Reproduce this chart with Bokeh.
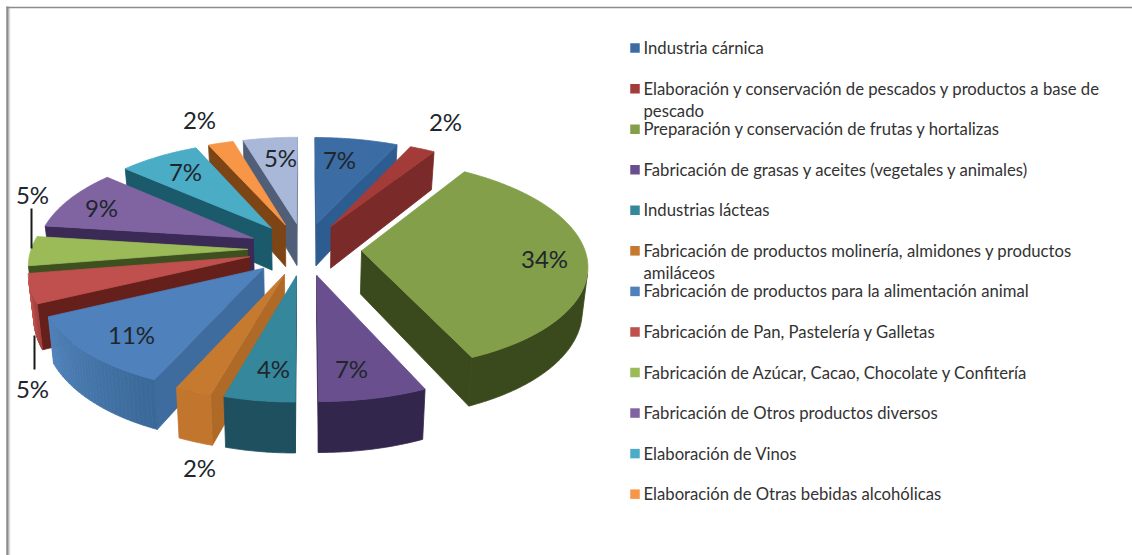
import numpy as np
from bokeh.plotting import figure
from bokeh.models import Range1d
from bokeh.core.properties import value
from bokeh.embed import file_html
from bokeh.resources import INLINE

# ---- data (shares estimated from the slice edges; the printed labels are rounded) ----
percent = [6.9, 2.1, 34.3, 6.7, 4.4, 2.3, 11.3, 4.5, 4.5, 9.4, 6.9, 2.15, 4.55]
labels = ["7%", "2%", "34%", "7%", "4%", "2%", "11%", "5%", "5%", "9%", "7%", "2%", "5%"]
legend_rows = [
    ["Industria cárnica"],
    ["Elaboración y conservación de pescados y productos a base de", "pescado"],
    ["Preparación y conservación de frutas y hortalizas"],
    ["Fabricación de grasas y aceites (vegetales y animales)"],
    ["Industrias lácteas"],
    ["Fabricación de productos molinería, almidones y productos", "amiláceos"],
    ["Fabricación de productos para la alimentación animal"],
    ["Fabricación de Pan, Pastelería y Galletas"],
    ["Fabricación de Azúcar, Cacao, Chocolate y Confitería"],
    ["Fabricación de Otros productos diversos"],
    ["Elaboración de Vinos"],
    ["Elaboración de Otras bebidas alcohólicas"],
]

# ---- styles ----
top_colors = ["#3B6CA3", "#A33B38", "#839F4A", "#6A4F8E", "#35879C", "#C67A30",
              "#4F81BD", "#C0504D", "#9BBB59", "#8064A2", "#4BACC6", "#F79646", "#A9B8D8"]
side_colors = ["#2D5C90", "#7A2A28", "#3A4A1C", "#33264D", "#1F5060", "#B06A28",
               "#3F6C9E", "#66201B", "#3F5020", "#3A2A55", "#1B5A6A", "#7D4516", "#505E78"]
rim_first = ["#2D5C90", "#7A2A28", "#3A4A1C", "#33264D", "#1F5060", "#C2752D",
             "#3A6898", "#A0403C", "#3F5020", "#3A2A55", "#1B5A6A", "#7D4516", "#505E78"]
rim_last = ["#2D5C90", "#7A2A28", "#3A4A1C", "#33264D", "#1F5060", "#C2752D",
            "#5083BB", "#C0504D", "#3F5020", "#3A2A55", "#1B5A6A", "#7D4516", "#505E78"]

# ---- projection of the exploded pie (plane units -> page pixels) ----
CX, CY, AX, BY, PERSP, LEAN, EXPLODE, DEPTH, FLOOR_X = 304, 248.4, 223, 103, 0.125, 0.02, 0.256, 43, 0.98


def project(px, py):
    s = 1 / (1 + PERSP * py)
    h = 1 / (1 + LEAN * max(-px, 0))
    return CX + AX * px * s * h, CY - BY * py * s, s


def bottom(pt):
    x, y, s = pt
    return CX + (x - CX) * FLOOR_X, y + DEPTH * s


def lerp_color(a, b, f):
    ca = [int(a[i:i + 2], 16) for i in (1, 3, 5)]
    cb = [int(b[i:i + 2], 16) for i in (1, 3, 5)]
    return "#%02x%02x%02x" % tuple(int(round(u + (v - u) * f)) for u, v in zip(ca, cb))


edges = np.cumsum([0] + percent) / sum(percent) * 2 * np.pi
order = sorted(range(len(percent)),
               key=lambda i: -np.cos((edges[i] + edges[i + 1]) / 2))

xs, ys, fills = [], [], []


def add(px, py, color):
    xs.append(list(px)); ys.append(list(py)); fills.append(color)


def faces_viewer(a, b):
    bax, bay = bottom(a)
    bbx, bby = bottom(b)
    qx = [a[0], b[0], bbx, bax]
    qy = [a[1], b[1], bby, bay]
    return sum(qx[k] * qy[(k + 1) % 4] - qx[(k + 1) % 4] * qy[k] for k in range(4)) < 0


def strip(points, color):
    low = [bottom(q) for q in points]
    add([q[0] for q in points] + [q[0] for q in reversed(low)],
        [q[1] for q in points] + [q[1] for q in reversed(low)], color)


for i in order:
    t0, t1 = edges[i], edges[i + 1]
    mid = (t0 + t1) / 2
    ox, oy = EXPLODE * np.sin(mid), EXPLODE * np.cos(mid)
    n = max(16, int(percent[i] * 6))
    th = np.linspace(t0, t1, n + 1)
    apex = project(ox, oy)
    arc = [project(ox + np.sin(t), oy + np.cos(t)) for t in th]
    if faces_viewer(apex, arc[0]):
        strip([apex, arc[0]], side_colors[i])
    if faces_viewer(arc[-1], apex):
        strip([arc[-1], apex], side_colors[i])
    seen = [k for k in range(n) if faces_viewer(arc[k], arc[k + 1])]
    if seen:
        run = arc[seen[0]:seen[-1] + 2]
        pieces = 1 if rim_first[i] == rim_last[i] else 24
        step = max(1, (len(run) - 1) // pieces)
        chunks = list(range(0, len(run) - 1, step))
        for c, k in enumerate(chunks):
            f = c / max(len(chunks) - 1, 1)
            strip(run[k:k + step + 1], lerp_color(rim_first[i], rim_last[i], f))
    add([apex[0]] + [a[0] for a in arc], [apex[1]] + [a[1] for a in arc], top_colors[i])

p = figure(width=1132, height=555, output_backend="svg", toolbar_location=None,
           x_range=Range1d(0, 1132), y_range=Range1d(555, 0), min_border=0,
           background_fill_color="white")
p.axis.visible = False
p.grid.visible = False
p.outline_line_color = None

# frame of the picture
p.line([7, 7], [6, 555], line_color="#8c8c8c", line_width=2.5)
p.line([9, 9], [7, 555], line_color="#dcdcdc", line_width=1.5)
p.line([6, 1132], [7, 7], line_color="#8c8c8c", line_width=1.5)

p.patches(xs, ys, fill_color=fills, line_color=fills, line_width=0.8)

# leader lines of the two outer 5% labels
p.line([31, 31], [208, 248], line_color="#1a1a1a", line_width=2)
p.line([34, 34], [335, 369], line_color="#1a1a1a", line_width=2)

# percentage labels
label_x = [339, 445, 544, 351, 273, 199, 131, 32, 32, 101, 185, 199, 280]
label_y = [159, 121, 258, 368, 368, 467, 334, 388, 194, 207, 171, 119, 157]
p.text(label_x, label_y, text=labels, text_font=value("Lato"), text_font_size="24px",
       text_color="#20262c", text_align="center", text_baseline="middle")

# legend
ROW0, ROW_STEP, LINE_STEP, SWATCH_X, TEXT_X = 47.6, 40.55, 22, 634.5, 643
for r, lines in enumerate(legend_rows):
    y = ROW0 + ROW_STEP * r
    p.rect([SWATCH_X], [y], width=9.5, height=9.5, fill_color=top_colors[r], line_color=None)
    for j, line in enumerate(lines):
        p.text([TEXT_X], [y + LINE_STEP * j], text=[line], text_font=value("Lato"),
               text_font_size="16.7px", text_color="#333333", text_align="left",
               text_baseline="middle")

open("out.html", "w").write(file_html(p, INLINE))
